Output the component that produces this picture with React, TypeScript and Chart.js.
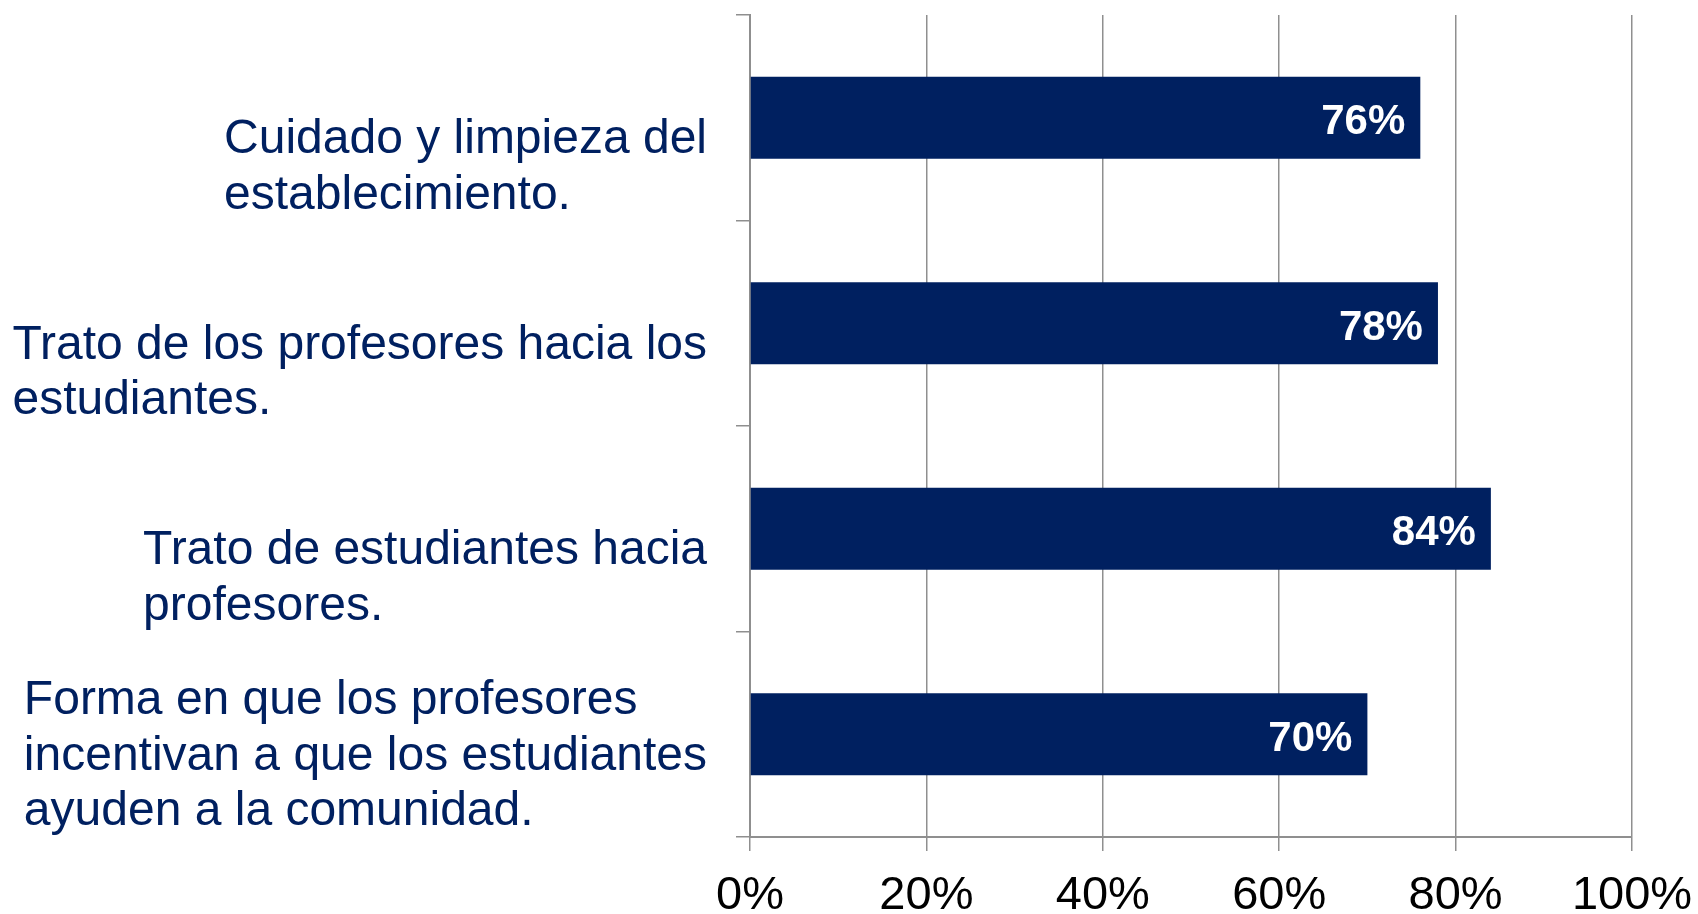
import React, { useEffect, useRef } from "react";
import { Chart, registerables } from "chart.js";

Chart.register(...registerables);

const categories: string[][] = [
  ["Cuidado y limpieza del", "establecimiento."],
  ["Trato de los profesores hacia los", "estudiantes."],
  ["Trato de estudiantes hacia", "profesores."],
  ["Forma en que los profesores", "incentivan a que los estudiantes", "ayuden a la comunidad."],
];
const values: number[] = [76, 78, 84, 70];
const valueLabels: string[] = ["76%", "78%", "84%", "70%"];
const xMin = 0;
const xMax = 100;
const xStep = 20;

const NAVY = "#002060";
const GRID = "#8f8f8f";
const FONT = '"Liberation Sans", Arial, Helvetica, sans-serif';

const categoryLabelPlugin = {
  id: "categoryLabels",
  afterDraw(chart: any) {
    const ctx = chart.ctx as CanvasRenderingContext2D;
    const yScale = chart.scales.y;
    ctx.save();
    ctx.font = `48px ${FONT}`;
    ctx.fillStyle = NAVY;
    ctx.textAlign = "left";
    ctx.textBaseline = "middle";
    const rightEdge = yScale.right - 43;
    const lineH = 55.5;
    categories.forEach((lines, i) => {
      const cy = yScale.getPixelForValue(i);
      const maxW = Math.max(...lines.map((l) => ctx.measureText(l).width));
      const x0 = rightEdge - maxW;
      const n = lines.length;
      lines.forEach((line, j) => {
        ctx.fillText(line, x0, cy + 78 - (n - 1 - j) * lineH);
      });
    });
    ctx.restore();
  },
};

const valueLabelPlugin = {
  id: "valueLabels",
  afterDatasetsDraw(chart: any) {
    const ctx = chart.ctx as CanvasRenderingContext2D;
    const meta = chart.getDatasetMeta(0);
    ctx.save();
    ctx.font = `bold 42px ${FONT}`;
    ctx.fillStyle = "#ffffff";
    ctx.textAlign = "right";
    ctx.textBaseline = "middle";
    meta.data.forEach((el: any, i: number) => {
      ctx.fillText(valueLabels[i], el.x - 15, el.y + 5);
    });
    ctx.restore();
  },
};

export default function App() {
  const canvasRef = useRef<HTMLCanvasElement | null>(null);

  useEffect(() => {
    if (!canvasRef.current) return;
    const chart = new Chart(canvasRef.current, {
      type: "bar",
      data: {
        labels: categories.map((c) => c.join(" ")),
        datasets: [
          {
            data: values,
            backgroundColor: NAVY,
            borderWidth: 0,
            barPercentage: 0.4,
            categoryPercentage: 1,
          },
        ],
      },
      options: {
        indexAxis: "y",
        responsive: false,
        animation: false,
        layout: { padding: { top: 15, right: 66, left: 0, bottom: 0 } },
        plugins: {
          legend: { display: false },
          tooltip: { enabled: false },
          title: { display: false },
        },
        scales: {
          x: {
            min: xMin,
            max: xMax,
            ticks: {
              stepSize: xStep,
              color: "#000000",
              font: { family: FONT, size: 47 },
              padding: 17,
              maxRotation: 0,
              callback: (v: any) => `${v}%`,
            },
            grid: {
              color: GRID,
              lineWidth: 1.5,
              drawTicks: true,
              tickLength: 14,
              tickColor: GRID,
            },
            border: { display: true, color: GRID, width: 2 },
            afterFit: (scale: any) => {
              scale.height = 77;
              scale.paddingLeft = 0;
              scale.paddingRight = 0;
            },
          },
          y: {
            ticks: { display: false },
            grid: {
              offset: true,
              drawOnChartArea: false,
              drawTicks: true,
              tickLength: 14,
              color: GRID,
              lineWidth: 1.5,
            },
            border: { display: true, color: GRID, width: 2 },
            afterFit: (scale: any) => {
              scale.width = 750;
            },
          },
        },
      },
      plugins: [categoryLabelPlugin, valueLabelPlugin],
    });
    return () => chart.destroy();
  }, []);

  return (
    <div style={{ position: "absolute", left: 0, top: 0, width: 1698, height: 914, background: "#ffffff" }}>
      <canvas ref={canvasRef} width={1698} height={914} />
    </div>
  );
}
